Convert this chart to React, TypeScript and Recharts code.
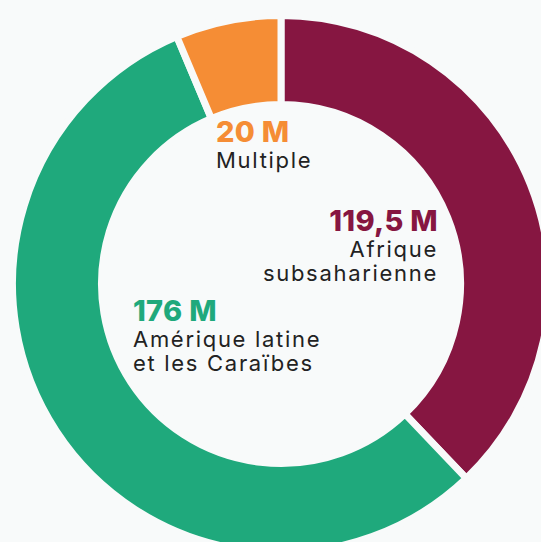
import { PieChart, Pie, Cell } from 'recharts';

const regions = ['Afrique subsaharienne', 'Amérique latine et les Caraïbes', 'Multiple'];
const regionLines = [['Afrique', 'subsaharienne'], ['Amérique latine', 'et les Caraïbes'], ['Multiple']];
const values = [119.5, 176, 20];
const valueLabels = ['119,5 M', '176 M', '20 M'];
const colors = ['#861641', '#1fa97c', '#f58d35'];

const BG = '#f8fafa';
const FONT = 'Inter, "Noto Sans", sans-serif';

// label boxes: left/top in px, alignment
const labelPos = [
  { left: 218, top: 205, width: 220, align: 'right' as const },
  { left: 133, top: 295, width: 260, align: 'left' as const },
  { left: 216, top: 116, width: 150, align: 'left' as const },
];

const data = regions.map((name, i) => ({ name, value: values[i] }));

export default function App() {
  return (
    <div style={{ position: 'fixed', left: 0, top: 0, width: 541, height: 542, background: BG, overflow: 'hidden' }}>
      <PieChart width={541} height={542}>
        <Pie
          data={data}
          dataKey="value"
          cx={276}
          cy={279}
          innerRadius={179.5}
          outerRadius={268.5}
          startAngle={90}
          endAngle={-270}
          stroke={BG}
          strokeWidth={7}
          isAnimationActive={false}
        >
          {data.map((d, i) => (
            <Cell key={d.name} fill={colors[i]} />
          ))}
        </Pie>
      </PieChart>
      {labelPos.map((p, i) => (
        <div
          key={regions[i]}
          style={{
            position: 'absolute',
            left: p.left,
            top: p.top,
            width: p.width,
            textAlign: p.align,
            fontFamily: FONT,
          }}
        >
          <div style={{ color: colors[i], fontWeight: 800, fontSize: 29, lineHeight: '32px', letterSpacing: 0.3 }}>
            {valueLabels[i]}
          </div>
          {regionLines[i].map((l) => (
            <div key={l} style={{ color: '#222', fontSize: 22, lineHeight: '24px', letterSpacing: 1.7 }}>
              {l}
            </div>
          ))}
        </div>
      ))}
    </div>
  );
}
